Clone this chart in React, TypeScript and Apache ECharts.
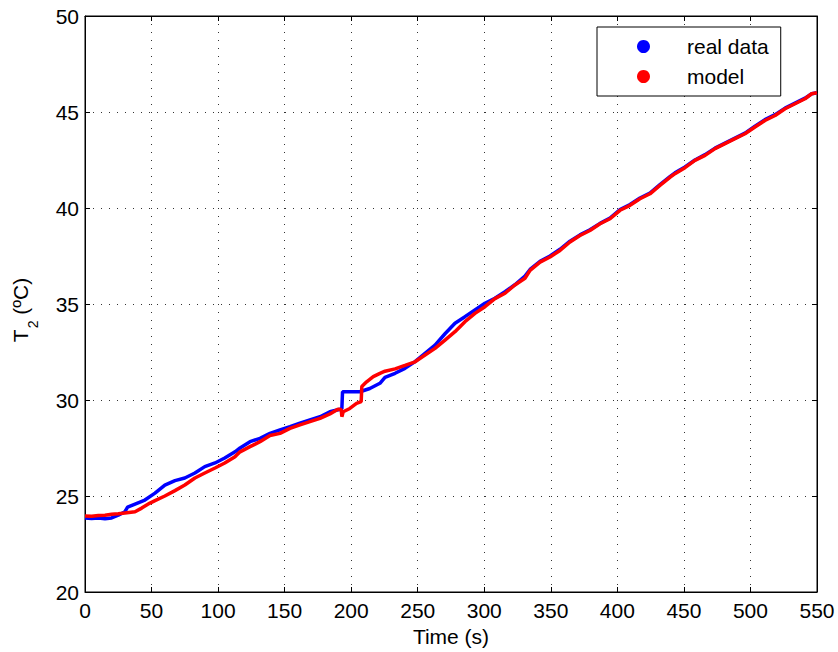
import React, { useEffect, useRef } from "react";
import * as echarts from "echarts";

const xTicks = { min: 0, max: 550, interval: 50 };
const yTicks = { min: 20, max: 50, interval: 5 };

const seriesNames = ["real data", "model"];

const realTime = [0, 5, 10, 15, 20, 25, 30, 32, 37.6, 45, 52.6, 60, 67.6, 75, 82.6, 90, 97.7, 105, 112.7, 116.5, 124, 131.5, 139, 146.5, 154, 161.5, 169, 176.6, 184, 191.6, 193, 193.5, 200, 206.6, 214, 221.6, 225.4, 233, 240.4, 248, 255.5, 263, 270.5, 278, 285.5, 293, 300.5, 308, 315.6, 323, 330.6, 334.4, 341.9, 349.4, 356.9, 364.4, 371.9, 379.4, 387, 394.5, 402, 409.5, 417, 424.5, 432, 439.5, 443.3, 450.8, 458.3, 465.9, 473.4, 480.9, 488.4, 495.9, 503.4, 510.9, 518.5, 526, 533.5, 541, 546, 550];
const realTemp = [23.85, 23.83, 23.85, 23.82, 23.86, 24.0, 24.18, 24.42, 24.58, 24.79, 25.15, 25.57, 25.8, 25.94, 26.2, 26.53, 26.72, 26.98, 27.3, 27.5, 27.83, 28.0, 28.26, 28.44, 28.61, 28.79, 28.96, 29.13, 29.39, 29.52, 29.55, 30.43, 30.43, 30.43, 30.6, 30.87, 31.18, 31.39, 31.65, 32.0, 32.43, 32.86, 33.45, 34.0, 34.34, 34.69, 35.04, 35.3, 35.64, 36.0, 36.45, 36.8, 37.22, 37.5, 37.85, 38.27, 38.6, 38.87, 39.2, 39.48, 39.92, 40.18, 40.52, 40.78, 41.22, 41.63, 41.83, 42.14, 42.5, 42.78, 43.12, 43.38, 43.64, 43.9, 44.26, 44.6, 44.86, 45.2, 45.46, 45.72, 45.95, 46.0];

const modelTime = [0, 5, 10, 15, 20, 25, 30, 37.6, 42.6, 48.8, 52.6, 60, 67.6, 75, 82.6, 90, 97.7, 105, 112.7, 116.5, 124, 131.5, 139, 146.5, 154, 161.5, 169, 176.6, 184, 190, 192.5, 193, 194, 199, 204, 207.5, 208, 211.6, 216.6, 221.6, 225.4, 233, 240.4, 248, 255.5, 263, 270.5, 278, 285.5, 293, 300.5, 308, 315.6, 323, 330.6, 334.4, 341.9, 349.4, 356.9, 364.4, 371.9, 379.4, 387, 394.5, 402, 409.5, 417, 424.5, 432, 439.5, 443.3, 450.8, 458.3, 465.9, 473.4, 480.9, 488.4, 495.9, 503.4, 510.9, 518.5, 526, 533.5, 541, 546, 550];
const modelTemp = [23.96, 23.95, 23.98, 24.0, 24.05, 24.08, 24.12, 24.18, 24.37, 24.63, 24.76, 25.0, 25.28, 25.57, 25.94, 26.2, 26.46, 26.72, 27.05, 27.3, 27.57, 27.83, 28.15, 28.26, 28.52, 28.7, 28.87, 29.04, 29.27, 29.52, 29.5, 29.13, 29.39, 29.56, 29.82, 29.91, 30.7, 30.95, 31.22, 31.39, 31.5, 31.62, 31.8, 31.99, 32.34, 32.69, 33.12, 33.56, 34.08, 34.51, 34.86, 35.28, 35.56, 35.99, 36.34, 36.75, 37.18, 37.45, 37.79, 38.23, 38.57, 38.83, 39.18, 39.44, 39.88, 40.14, 40.48, 40.74, 41.18, 41.6, 41.79, 42.1, 42.48, 42.74, 43.09, 43.35, 43.61, 43.87, 44.22, 44.56, 44.82, 45.17, 45.43, 45.69, 45.95, 46.0];

const FONT = "Liberation Sans, Arial, Helvetica, sans-serif";

function zip(t: number[], v: number[]) {
  return t.map((x, i) => [x, v[i]]);
}

export default function App() {
  const ref = useRef<HTMLDivElement>(null);
  useEffect(() => {
    if (!ref.current) return;
    const chart = echarts.init(ref.current, undefined, { renderer: "svg" });
    const grid = { left: 85, top: 16, right: 21, bottom: 60 };
    const dotted = { color: "#333", width: 1, type: [1, 7] as any };
    const baseX = {
      type: "value" as const,
      ...xTicks,
      axisLine: { show: true, onZero: false, lineStyle: { color: "#000", width: 1 } },
      axisTick: { show: true, inside: true, length: 5, lineStyle: { color: "#000" } },
    };
    const baseY = {
      type: "value" as const,
      ...yTicks,
      axisLine: { show: true, onZero: false, lineStyle: { color: "#000", width: 1 } },
      axisTick: { show: true, inside: true, length: 5, lineStyle: { color: "#000" } },
    };
    chart.setOption({
      animation: false,
      backgroundColor: "#fff",
      grid: { ...grid, show: true, borderColor: "#000", borderWidth: 1, containLabel: false },
      xAxis: [
        {
          ...baseX,
          position: "bottom",
          name: "Time (s)",
          nameLocation: "middle",
          nameGap: 34,
          nameTextStyle: { color: "#000", fontSize: 21, fontFamily: FONT },
          axisLabel: { color: "#000", fontSize: 21, fontFamily: FONT, margin: 8 },
          splitLine: { show: true, lineStyle: dotted },
        },
        {
          ...baseX,
          position: "top",
          axisLabel: { show: false },
          splitLine: { show: false },
        },
      ],
      yAxis: [
        {
          ...baseY,
          position: "left",
          axisLabel: { color: "#000", fontSize: 21, fontFamily: FONT, margin: 6 },
          splitLine: { show: true, lineStyle: dotted },
        },
        {
          ...baseY,
          position: "right",
          axisLabel: { show: false },
          splitLine: { show: false },
        },
      ],
      legend: {
        show: true,
        orient: "vertical",
        left: 597,
        top: 27,
        data: seriesNames,
        icon: "circle",
        itemWidth: 13,
        itemHeight: 13,
        itemGap: 9,
        padding: [9, 12, 9, 40],
        borderColor: "#000",
        borderWidth: 1,
        backgroundColor: "#fff",
        textStyle: { color: "#000", fontSize: 21, fontFamily: FONT, padding: [0, 0, 0, 32] },
        selectedMode: false,
      },
      graphic: [
        {
          type: "text",
          x: 22,
          y: 310,
          rotation: Math.PI / 2,
          style: {
            text: "{a|T}{b|2}{a| (ºC)}",
            align: "center",
            verticalAlign: "middle",
            fill: "#000",
            rich: {
              a: { fontSize: 21, fontFamily: FONT, lineHeight: 24, verticalAlign: "top", fill: "#000" },
              b: { fontSize: 14, fontFamily: FONT, lineHeight: 16, verticalAlign: "top", padding: [16, 0, 0, 1], fill: "#000" },
            },
          },
        },
      ],
      series: [
        {
          name: seriesNames[0],
          type: "line",
          data: zip(realTime, realTemp),
          showSymbol: false,
          symbol: "circle",
          itemStyle: { color: "#0000ff" },
          lineStyle: { color: "#0000ff", width: 3.5 },
          z: 2,
        },
        {
          name: seriesNames[1],
          type: "line",
          data: zip(modelTime, modelTemp),
          showSymbol: false,
          symbol: "circle",
          itemStyle: { color: "#ff0000" },
          lineStyle: { color: "#ff0000", width: 3.5 },
          z: 3,
        },
      ],
    });
    return () => chart.dispose();
  }, []);
  return <div ref={ref} style={{ width: 838, height: 652, position: "absolute", left: 0, top: 0 }} />;
}
